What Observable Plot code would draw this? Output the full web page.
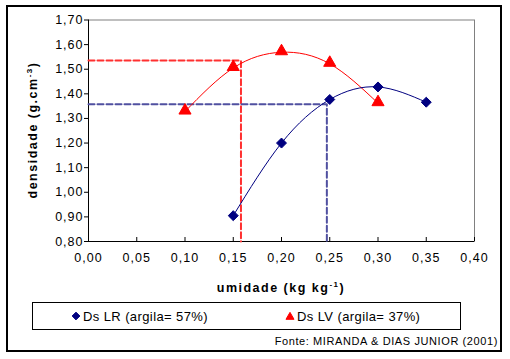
<!DOCTYPE html>
<html><head><meta charset="utf-8">
<script src="https://cdn.jsdelivr.net/npm/d3@7"></script>
<script src="https://cdn.jsdelivr.net/npm/@observablehq/plot@0.6"></script>
<style>body{margin:0;background:#fff} svg{display:block}</style>
</head><body><div id="chart"></div>
<script>
// Data
const lrX = [0.15, 0.20, 0.25, 0.30, 0.35];
const lrY = [0.905, 1.20, 1.377, 1.428, 1.366];
const lvX = [0.10, 0.15, 0.20, 0.25, 0.30];
const lvY = [1.328, 1.505, 1.569, 1.522, 1.362];
const refLVx = 0.158, refLVy = 1.535;
const refLRx = 0.247, refLRy = 1.358;
const xTicks = [0, 0.05, 0.10, 0.15, 0.20, 0.25, 0.30, 0.35, 0.40];
const xTickLabels = ["0,00","0,05","0,10","0,15","0,20","0,25","0,30","0,35","0,40"];
const yTicks = [0.8, 0.9, 1.0, 1.1, 1.2, 1.3, 1.4, 1.5, 1.6, 1.7];
const yTickLabels = ["0,80","0,90","1,00","1,10","1,20","1,30","1,40","1,50","1,60","1,70"];
const seriesNames = ["Ds LR (argila= 57%)", "Ds LV (argila= 37%)"];
const seriesColors = ["#000080", "#ff0000"];
const caption = "Fonte: MIRANDA & DIAS JUNIOR (2001)";

const lr = lrX.map((x, i) => ({x, y: lrY[i]}));
const lv = lvX.map((x, i) => ({x, y: lvY[i]}));
const refLV = [{x: 0, y: refLVy}, {x: refLVx, y: refLVy}, {x: refLVx, y: 0.8}];
const refLR = [{x: 0, y: refLRy}, {x: refLRx, y: refLRy}, {x: refLRx, y: 0.8}];

const W = 510, H = 359, mL = 88, mT = 19.5, mR = 36, mB = 118;
const frameH = H - mT - mB;

const svg = Plot.plot({
  width: W, height: H,
  marginLeft: mL, marginTop: mT, marginRight: mR, marginBottom: mB,
  style: {fontFamily: "'Liberation Sans', Arial, sans-serif", fontSize: "12.5px", letterSpacing: "1px", color: "black", background: "white"},
  x: {domain: [0, 0.4]},
  y: {domain: [0.8, 1.7]},
  marks: [
    Plot.frame({stroke: "#808080"}),
    Plot.ruleX([0], {stroke: "black"}),
    Plot.ruleY([0.8], {stroke: "black"}),
    Plot.axisY({ticks: yTicks, tickFormat: d => yTickLabels[yTicks.indexOf(d)], tickSize: 4, tickPadding: 1, label: null, stroke: "black"}),
    Plot.axisX({ticks: xTicks, tickFormat: d => xTickLabels[xTicks.indexOf(d)], tickSize: 0, tickPadding: 12, label: null}),
    Plot.tickX(xTicks, {x: d => d, stroke: "black", insetTop: frameH - 4}),
    Plot.line(refLV, {x: "x", y: "y", stroke: "#ff3030", strokeWidth: 2, strokeDasharray: "6,3"}),
    Plot.line(refLR, {x: "x", y: "y", stroke: "#5050a0", strokeWidth: 2, strokeDasharray: "6,3"}),
    Plot.line(lv, {x: "x", y: "y", curve: "natural", stroke: seriesColors[1], strokeWidth: 1}),
    Plot.line(lr, {x: "x", y: "y", curve: "natural", stroke: seriesColors[0], strokeWidth: 1}),
    Plot.dot(lr, {x: "x", y: "y", symbol: "diamond2", r: 4.5, fill: seriesColors[0], stroke: seriesColors[0], strokeWidth: 1}),
    Plot.dot(lv, {x: "x", y: "y", symbol: "triangle", r: 4.5, fill: seriesColors[1], stroke: seriesColors[1], strokeWidth: 1, dy: -1})
  ]
});
document.getElementById("chart").appendChild(svg);

const s = d3.select(svg);
// outer border
s.append("rect").attr("x", 7).attr("y", 6).attr("width", 494).attr("height", 345)
  .attr("fill", "none").attr("stroke", "black").attr("stroke-width", 2);

// y title
const yt = s.append("text").attr("transform", "translate(37,130) rotate(-90)")
  .attr("text-anchor", "middle").attr("font-weight", "bold").attr("font-size", "12.5px").attr("letter-spacing", "1.5px");
yt.append("tspan").text("densidade (g.cm");
yt.append("tspan").attr("font-size", "8px").attr("dy", -5).text("-3");
yt.append("tspan").attr("dy", 5).text(")");

// x title
const xt = s.append("text").attr("x", 281).attr("y", 292)
  .attr("text-anchor", "middle").attr("font-weight", "bold").attr("font-size", "12.5px").attr("letter-spacing", "1.5px");
xt.append("tspan").text("umidade (kg kg");
xt.append("tspan").attr("font-size", "8px").attr("dy", -5).text("-1");
xt.append("tspan").attr("dy", 5).text(")");

// legend
s.append("rect").attr("x", 32.5).attr("y", 302.5).attr("width", 428).attr("height", 27)
  .attr("fill", "none").attr("stroke", "black").attr("stroke-width", 1);
const legItems = [
  {x: 76, sym: d3.symbolDiamond2, size: 38},
  {x: 290, sym: d3.symbolTriangle, size: 28}
];
legItems.forEach((it, i) => {
  s.append("path").attr("d", d3.symbol(it.sym, it.size)()).attr("transform", `translate(${it.x},${i ? 317 : 316})`)
    .attr("fill", seriesColors[i]).attr("stroke", seriesColors[i]);
  s.append("text").attr("x", it.x + 7).attr("y", 320.5).attr("text-anchor", "start").attr("font-size", "13px").attr("letter-spacing", "0.4px").text(seriesNames[i]);
});

// caption
s.append("text").attr("x", 498).attr("y", 345).attr("text-anchor", "end").attr("font-size", "11px").attr("letter-spacing", "0.6px").text(caption);
</script>
</body></html>
